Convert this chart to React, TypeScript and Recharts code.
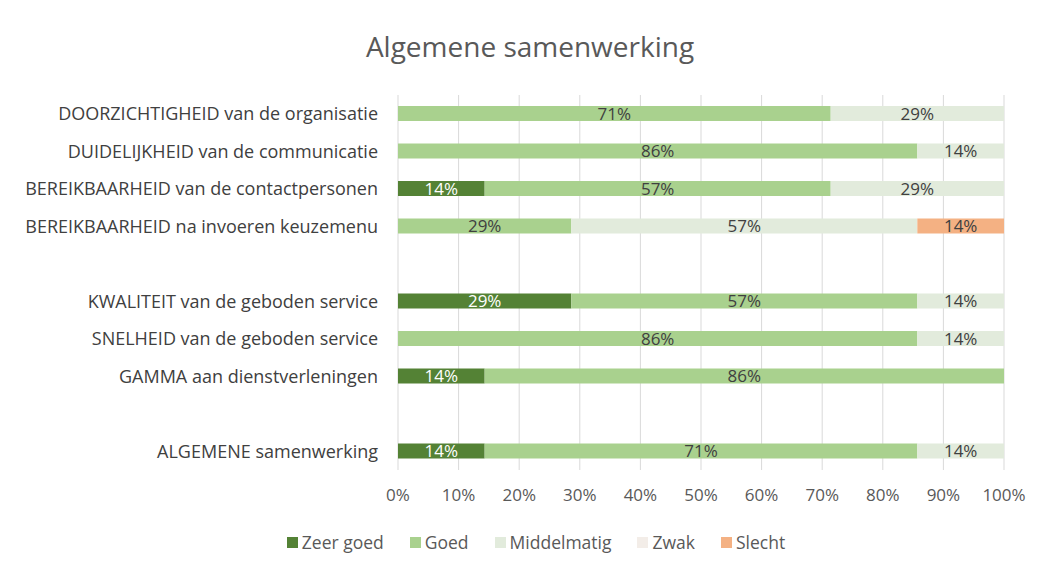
import { BarChart, Bar, XAxis, YAxis, CartesianGrid, Legend, LabelList } from "recharts";

const categories = [
  "DOORZICHTIGHEID van de organisatie",
  "DUIDELIJKHEID van de communicatie",
  "BEREIKBAARHEID van de contactpersonen",
  "BEREIKBAARHEID na invoeren keuzemenu",
  " ",
  "KWALITEIT van de geboden service",
  "SNELHEID van de geboden service",
  "GAMMA aan dienstverleningen",
  "  ",
  "ALGEMENE samenwerking",
];

const zeerGoed = [0, 0, 14.3, 0, 0, 28.6, 0, 14.3, 0, 14.3];
const goed = [71.4, 85.7, 57.1, 28.6, 0, 57.1, 85.7, 85.7, 0, 71.4];
const middelmatig = [28.6, 14.3, 28.6, 57.1, 0, 14.3, 14.3, 0, 0, 14.3];
const zwak = [0, 0, 0, 0, 0, 0, 0, 0, 0, 0];
const slecht = [0, 0, 0, 14.3, 0, 0, 0, 0, 0, 0];

const xTicks = [0, 10, 20, 30, 40, 50, 60, 70, 80, 90, 100];

const series = [
  { key: "zeerGoed", name: "Zeer goed", color: "#548235", text: "#ffffff" },
  { key: "goed", name: "Goed", color: "#a9d18e", text: "#404040" },
  { key: "middelmatig", name: "Middelmatig", color: "#e2ebdc", text: "#404040" },
  { key: "zwak", name: "Zwak", color: "#f3ede8", text: "#404040" },
  { key: "slecht", name: "Slecht", color: "#f4b183", text: "#404040" },
];

const data = categories.map((name, i) => ({
  name,
  zeerGoed: zeerGoed[i],
  goed: goed[i],
  middelmatig: middelmatig[i],
  zwak: zwak[i],
  slecht: slecht[i],
}));

const font = "'Open Sans', 'Noto Sans', sans-serif";

const fmt = (v: any) => (v ? `${Math.round(v)}%` : "");

function LegendContent() {
  return (
    <div style={{ display: "flex", justifyContent: "center", gap: 26, fontFamily: font, fontSize: 17.5, color: "#595959" }}>
      {series.map((s) => (
        <div key={s.key} style={{ display: "flex", alignItems: "center", gap: 4 }}>
          <span style={{ width: 11, height: 11, background: s.color, display: "inline-block" }} />
          <span>{s.name}</span>
        </div>
      ))}
    </div>
  );
}

export default function App() {
  return (
    <div style={{ position: "absolute", left: 0, top: 0, width: 1038, height: 569, background: "#fff", fontFamily: font }}>
      <div style={{ position: "absolute", top: 27, left: 0, width: 1060, textAlign: "center", fontSize: 28, color: "#595959" }}>
        Algemene samenwerking
      </div>
      <BarChart
        width={1038}
        height={569}
        data={data}
        layout="vertical"
        margin={{ top: 95, right: 34, bottom: 45, left: 0 }}
        barSize={15}
      >
        <CartesianGrid horizontal={false} stroke="#d9d9d9" />
        <XAxis
          type="number"
          domain={[0, 100]}
          ticks={xTicks}
          tickFormatter={(v) => `${v}%`}
          axisLine={false}
          tickLine={false}
          tickSize={0}
          tickMargin={19}
          height={30}
          tick={{ fill: "#595959", fontSize: 17, fontFamily: font }}
        />
        <YAxis
          type="category"
          dataKey="name"
          width={398}
          axisLine={false}
          tickLine={false}
          tickSize={0}
          tickMargin={20}
          interval={0}
          tick={{ fill: "#404040", fontSize: 18, fontFamily: font }}
        />
        {series.map((s) => (
          <Bar key={s.key} dataKey={s.key} name={s.name} stackId="a" fill={s.color} isAnimationActive={false}>
            <LabelList dataKey={s.key} position="center" formatter={fmt} fill={s.text} fontSize={17} fontFamily={font} />
          </Bar>
        ))}
        <Legend
          content={<LegendContent />}
          wrapperStyle={{ position: "absolute", top: 530, left: 0, width: 1072, height: 24 }}
        />
      </BarChart>
    </div>
  );
}
